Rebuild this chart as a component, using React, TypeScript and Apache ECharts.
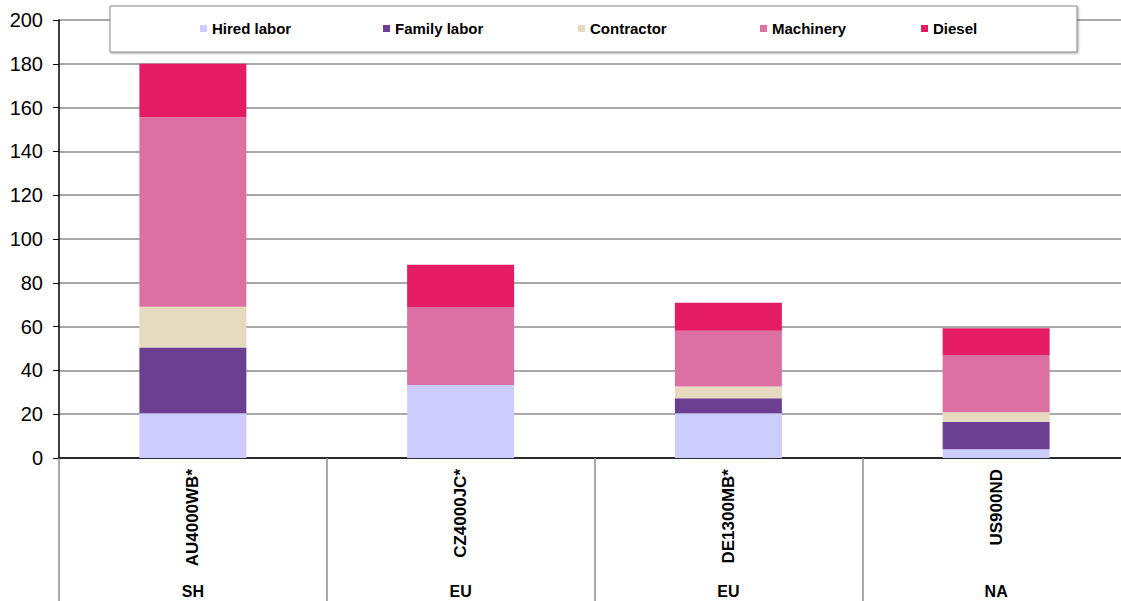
import React, { useEffect, useRef } from "react";
import * as echarts from "echarts";

const categories = ["AU4000WB*", "CZ4000JC*", "DE1300MB*", "US900ND"];
const regions = ["SH", "EU", "EU", "NA"];
const seriesNames = ["Hired labor", "Family labor", "Contractor", "Machinery", "Diesel"];
const hiredLabor = [20.4, 33.3, 20.4, 4.0];
const familyLabor = [30.0, 0, 6.9, 12.6];
const contractor = [18.7, 0, 5.3, 4.3];
const machinery = [86.5, 35.7, 25.5, 26.1];
const diesel = [24.4, 19.2, 12.8, 12.2];
const colors = ["#CCCCFF", "#6B3F91", "#E6DBBE", "#DD70A2", "#E31C63"];
const legendLefts = [200, 383, 578, 760, 921];

export default function App() {
  const ref = useRef<HTMLDivElement>(null);
  useEffect(() => {
    if (!ref.current) return;
    const chart = echarts.init(ref.current, null, { renderer: "svg" });
    const values = [hiredLabor, familyLabor, contractor, machinery, diesel];
    const font = "'Liberation Sans', Arial, sans-serif";
    chart.setOption({
      animation: false,
      backgroundColor: "#fff",
      color: colors,
      textStyle: { fontFamily: font },
      grid: { left: 59, right: 0, top: 20, bottom: 143, containLabel: false, outerBoundsMode: "none" },
      legend: seriesNames.map((n, i) => ({
        data: [n],
        left: legendLefts[i],
        top: 21,
        padding: 0,
        itemWidth: 7,
        itemHeight: 7,
        icon: "rect",
        z: 20,
        selectedMode: false,
        textStyle: { fontFamily: font, fontSize: 15, fontWeight: "bold", color: "#000" },
      })),
      graphic: [
        {
          type: "rect",
          z: 10,
          shape: { x: 110, y: 6, width: 967, height: 46 },
          style: {
            fill: "#fff",
            stroke: "#8a8a8a",
            lineWidth: 1,
            shadowColor: "rgba(0,0,0,0.35)",
            shadowOffsetX: 1,
            shadowOffsetY: 1,
            shadowBlur: 2,
          },
        },
      ],
      xAxis: [
        {
          type: "category",
          data: categories,
          position: "bottom",
          axisLine: { show: true, lineStyle: { color: "#000", width: 1.5 } },
          axisTick: { show: true, length: 143, interval: 0, lineStyle: { color: "#8c8c8c", width: 1.5 } },
          axisLabel: {
            rotate: 90,
            interval: 0,
            margin: 11,
            fontSize: 17,
            fontWeight: "bold",
            color: "#000",
            fontFamily: font,
          },
          splitLine: { show: false },
        },
        {
          type: "category",
          data: regions,
          position: "bottom",
          offset: 117,
          axisLine: { show: false },
          axisTick: { show: false },
          axisLabel: { interval: 0, margin: 8, fontSize: 16, fontWeight: "bold", color: "#000", fontFamily: font },
          splitLine: { show: false },
        },
      ],
      yAxis: {
        type: "value",
        min: 0,
        max: 200,
        interval: 20,
        axisLine: { show: true, lineStyle: { color: "#000", width: 1.5 } },
        axisTick: { show: true, length: 6, lineStyle: { color: "#000" } },
        axisLabel: { margin: 16, fontSize: 20, color: "#000", fontFamily: font },
        splitLine: { show: true, lineStyle: { color: "#8c8c8c", width: 1.5 } },
      },
      series: seriesNames.map((n, i) => ({
        name: n,
        type: "bar",
        stack: "total",
        barWidth: 107,
        xAxisIndex: 0,
        data: values[i],
        itemStyle: { color: colors[i] },
      })),
    });
    return () => chart.dispose();
  }, []);
  return (
    <div style={{ position: "fixed", left: 0, top: 0, width: 1121, height: 601, overflow: "hidden", background: "#fff" }}>
      <div ref={ref} style={{ position: "absolute", left: 0, top: 0, width: 1130, height: 601 }} />
    </div>
  );
}
